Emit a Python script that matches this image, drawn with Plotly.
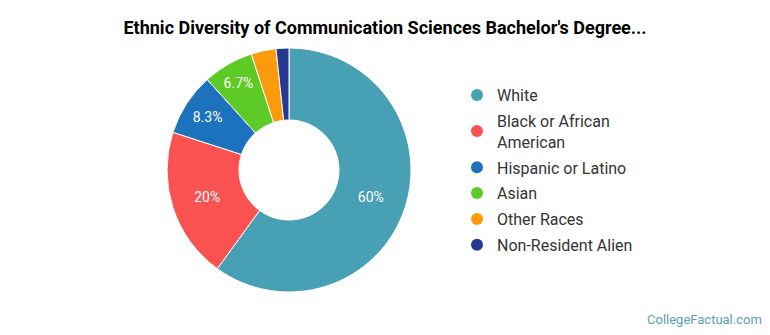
import plotly.graph_objects as go

categories = ["White", "Black or African American", "Hispanic or Latino", "Asian", "Other Races", "Non-Resident Alien"]
legend_labels = ["White", "Black or African<br>American", "Hispanic or Latino", "Asian", "Other Races", "Non-Resident Alien"]
values = [60, 20, 8.3, 6.7, 3.3, 1.7]
colors = ["#48a0b4", "#fa5151", "#1d72bd", "#5dca25", "#fb9a0a", "#283890"]

W, H = 770, 335
cx, cy, R = 289, 170, 122

slice_text = [f"{v:g}%" if v >= 5 else "" for v in values]

fig = go.Figure()
fig.add_trace(go.Pie(
    labels=categories, values=values, sort=False, direction="clockwise", rotation=0,
    hole=0.41, marker=dict(colors=colors, line=dict(color="white", width=1)),
    text=slice_text, texttemplate="%{text}", textinfo="text", textposition="inside",
    insidetextorientation="horizontal",
    insidetextfont=dict(color="white", size=14, family="Roboto"),
    showlegend=False, hoverinfo="label+percent",
    domain=dict(x=[(cx - R) / W, (cx + R) / W], y=[(H - cy - R) / H, (H - cy + R) / H]),
))
for i, (lab, c) in enumerate(zip(legend_labels, colors)):
    fig.add_trace(go.Scatter(x=[None], y=[None], mode="markers", name=lab, legendgroup=f"g{i}",
                             marker=dict(symbol="circle", size=16, color=c)))

fig.update_layout(
    width=W, height=H, margin=dict(l=0, r=0, t=0, b=0),
    paper_bgcolor="white", plot_bgcolor="white",
    font=dict(family="Roboto", color="#333333"),
    title=dict(text="<b>Ethnic Diversity of Communication Sciences Bachelor's Degree...</b>",
               x=0.5, xanchor="center", y=1 - 28 / H, yanchor="middle",
               font=dict(size=18, color="#000000", family="Roboto")),
    xaxis=dict(visible=False), yaxis=dict(visible=False),
    legend=dict(x=457 / W, y=1 - 78 / H, xanchor="left", yanchor="top",
                font=dict(size=16, color="#333333", family="Roboto"),
                itemsizing="constant", tracegroupgap=2, bgcolor="rgba(0,0,0,0)"),
    annotations=[dict(text="CollegeFactual.com", x=1 - 6 / W, y=6 / H, xref="paper", yref="paper",
                      xanchor="right", yanchor="bottom", showarrow=False,
                      font=dict(size=13, color="#5a9fb3", family="Roboto"))],
)
fig.write_html("out.html")
